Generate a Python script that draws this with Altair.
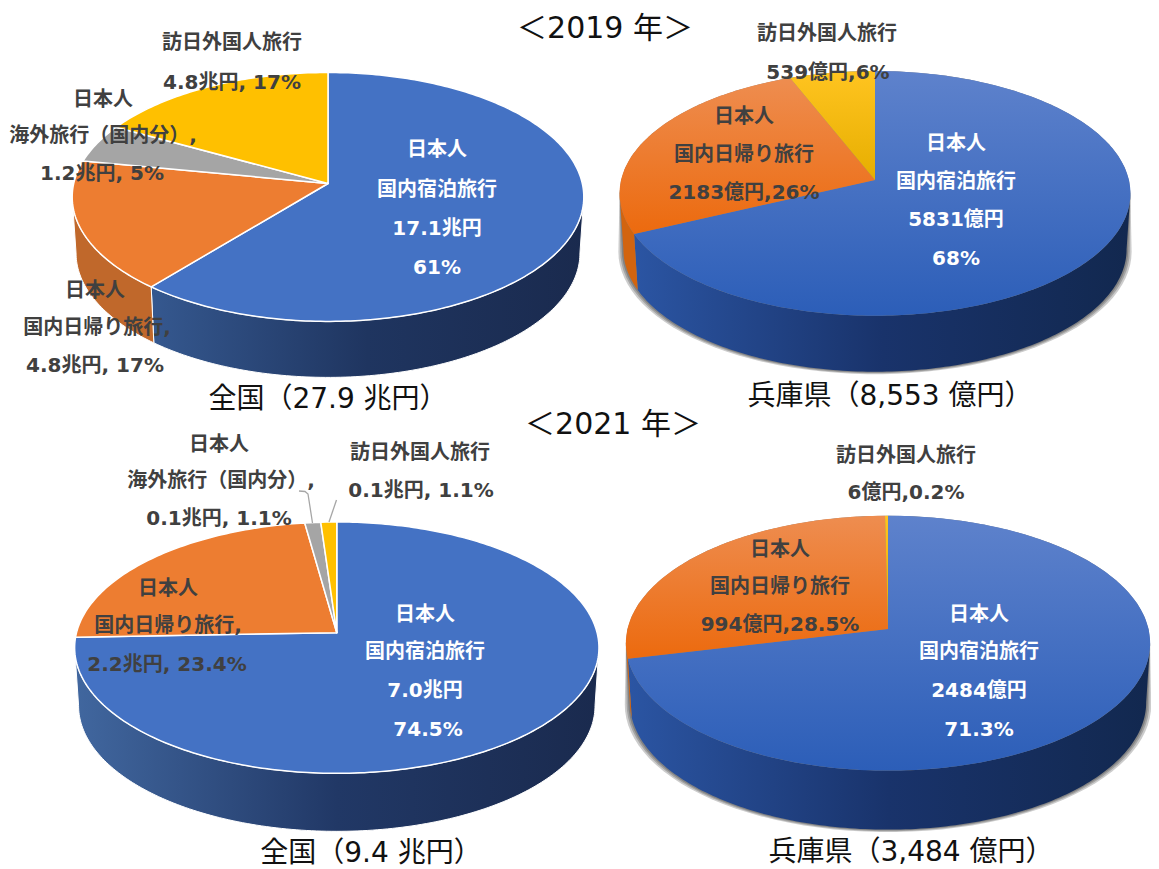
import math
import altair as alt
import pandas as pd

# ---- values ----
slices = ["日本人 国内宿泊旅行", "日本人 国内日帰り旅行", "日本人 海外旅行（国内分）", "訪日外国人旅行"]
share_2019_all = [61, 17, 5, 17]
share_2019_hyogo = [68, 26, 0, 6]
share_2021_all = [74.5, 23.4, 1.1, 1.1]
share_2021_hyogo = [71.3, 28.5, 0, 0.2]

titles = ["＜2019 年＞", "全国（27.9 兆円）", "兵庫県（8,553 億円）",
          "＜2021 年＞", "全国（9.4 兆円）", "兵庫県（3,484 億円）"]
labels_2019_all = ["訪日外国人旅行", "4.8兆円, 17%", "日本人", "海外旅行（国内分）,", "1.2兆円, 5%",
                   "日本人", "国内日帰り旅行,", "4.8兆円, 17%", "日本人", "国内宿泊旅行", "17.1兆円", "61%"]
labels_2019_hyogo = ["訪日外国人旅行", "539億円,6%", "日本人", "国内日帰り旅行", "2183億円,26%",
                     "日本人", "国内宿泊旅行", "5831億円", "68%"]
labels_2021_all = ["日本人", "海外旅行（国内分）,", "0.1兆円, 1.1%", "訪日外国人旅行", "0.1兆円, 1.1%",
                   "日本人", "国内日帰り旅行,", "2.2兆円, 23.4%", "日本人", "国内宿泊旅行", "7.0兆円", "74.5%"]
labels_2021_hyogo = ["訪日外国人旅行", "6億円,0.2%", "日本人", "国内日帰り旅行", "994億円,28.5%",
                     "日本人", "国内宿泊旅行", "2484億円", "71.3%"]

# ---- layout ----
FONT = "DejaVu Sans, Noto Sans CJK JP"
X_SCALE = alt.Scale(domain=[8, 1151], nice=False, zero=False)
Y_SCALE = alt.Scale(domain=[869, 8], nice=False, zero=False)
X = alt.X("x:Q", scale=X_SCALE, axis=None)
Y = alt.Y("y:Q", scale=Y_SCALE, axis=None)

flat_top = ["#4472C4", "#ED7D31", "#A5A5A5", "#FFC000"]


def vgrad(a, b):
    return alt.Gradient(gradient="linear", x1=0, x2=0, y1=0, y2=1,
                        stops=[alt.GradientStop(offset=0, color=a), alt.GradientStop(offset=1, color=b)])


def hgrad(a, m, b):
    return alt.Gradient(gradient="linear", x1=0, x2=1, y1=0, y2=0,
                        stops=[alt.GradientStop(offset=0, color=a), alt.GradientStop(offset=.5, color=m),
                               alt.GradientStop(offset=1, color=b)])


shaded_top = [vgrad("#5E82CC", "#2C5EB8"), vgrad("#EE8D50", "#EC6A0E"), "#A5A5A5", vgrad("#FFC420", "#E6AE00")]

pies = [
    dict(name="a", share=share_2019_all, ax=328, ay=183.5, rx=254.3, r=123, k=.108, depth=56,
         top=flat_top, edge=True,
         wall=[hgrad("#35588F", "#1F3560", "#1A2A4E"), "#C0682B", "#7C7C7C", "#BF9000"]),
    dict(name="b", share=share_2019_hyogo, ax=875, ay=180, rx=253.9, r=120.9, k=.109, depth=56,
         top=shaded_top, edge=False,
         wall=[hgrad("#2B55A3", "#19336B", "#12284F"), "#D2640F", "#7C7C7C", "#BF9000"]),
    dict(name="c", share=share_2021_all, ax=336.8, ay=632.7, rx=260.3, r=123.9, k=.119, depth=58,
         top=flat_top, edge=True,
         wall=[hgrad("#41679F", "#213866", "#1A2A4E"), "#C0682B", "#7C7C7C", "#BF9000"]),
    dict(name="d", share=share_2021_hyogo, ax=888, ay=629, rx=260.5, r=125.9, k=.111, depth=59,
         top=shaded_top, edge=False,
         wall=[hgrad("#2B55A3", "#19336B", "#12284F"), "#D2640F", "#7C7C7C", "#BF9000"]),
]


def rim(p, deg):
    t = math.radians(deg)
    d = 1 + p["k"] * math.cos(t)
    return p["ax"] + p["rx"] * math.sin(t) / d, p["ay"] - p["r"] * math.cos(t) / d


def degrees(a, b, step=1.0):
    n = max(2, int(abs(b - a) / step) + 1)
    return [a + (b - a) * i / (n - 1) for i in range(n)]


def table(points):
    return pd.DataFrame({"i": range(len(points)), "x": [q[0] for q in points], "y": [q[1] for q in points]})


def poly(points, fill, stroke=None, width=0, opacity=None):
    opts = dict(fill=fill, clip=False, strokeCap="round", strokeJoin="round")
    if stroke:
        opts.update(stroke=stroke, strokeWidth=width)
    else:
        opts.update(strokeOpacity=0)
    if opacity is not None:
        opts.update(fillOpacity=opacity)
    return alt.Chart(table(points)).mark_line(**opts).encode(x=X, y=Y, order=alt.Order("i:Q"))


layers = []
for p in pies:
    total = sum(p["share"])
    ends, acc = [], 0
    for s in p["share"]:
        ends.append((acc / total * 360, (acc + s) / total * 360))
        acc += s
    # leftmost / rightmost points of the rim: the wall is visible only between them
    side = math.degrees(math.acos(-p["k"]))
    # soft shadow round the base of the two shaded pies
    if not p["edge"]:
        for grow in (5, 3.2, 1.6):
            ring = [rim(p, d) for d in degrees(side, 360 - side, 3)]
            ring = [(p["ax"] + (x - p["ax"]) * (.985 + grow / p["rx"]), y + p["depth"] + grow * .5) for x, y in ring]
            upper = [rim(p, d) for d in degrees(360 - side, side + 360, 6)]
            layers.append(poly(ring + upper + ring[:1], "#000000", opacity=.2))
    # side walls
    for idx, (a, b) in enumerate(ends):
        lo, hi = max(a, side), min(b, 360 - side)
        if p["share"][idx] == 0 or lo >= hi:
            continue
        upper = [rim(p, d) for d in degrees(lo, hi)]
        lower = [(p["ax"] + (x - p["ax"]) * .985, y + p["depth"]) for x, y in upper][::-1]
        layers.append(poly(upper + lower + upper[:1], p["wall"][idx],
                           "#FFFFFF" if p["edge"] else None, 1))
    # top surface
    for idx, (a, b) in enumerate(ends):
        if p["share"][idx] == 0:
            continue
        pts = [(p["ax"], p["ay"])] + [rim(p, d) for d in degrees(a, b)] + [(p["ax"], p["ay"])]
        layers.append(poly(pts, p["top"][idx], "#FFFFFF" if p["edge"] else None, 1.5))

# leader lines of the two small 2021 slices
for path in ([(299, 491), (305, 491.5), (308, 494), (312.5, 523)], [(336.5, 500), (329, 522)]):
    layers.append(alt.Chart(table(path)).mark_line(stroke="#A6A6A6", strokeWidth=1.3)
                  .encode(x=X, y=Y, order=alt.Order("i:Q")))

# label placement: (list, [(x, y), ...], number of dark lines)
DARK, WHITE = "#404040", "#FFFFFF"
placements = [
    (labels_2019_all, [(232, 43), (232, 83), (103, 100), (103, 136), (102, 174), (95, 291), (97, 328), (95, 366),
                       (437, 150), (437, 190), (437, 229), (437, 268)], 8),
    (labels_2019_hyogo, [(827, 34), (828, 73), (744, 117), (744, 155), (744, 193),
                         (956, 144), (956, 182), (956, 220), (956, 259)], 5),
    (labels_2021_all, [(219, 445), (221, 481), (219, 519), (420, 453), (421, 491), (168, 589), (168, 626), (167, 665),
                       (425, 615), (425, 652), (425, 691), (428, 730)], 8),
    (labels_2021_hyogo, [(906, 456), (906, 493), (780, 550), (780, 587), (780, 625),
                         (979, 615), (979, 652), (979, 691), (979, 730)], 5),
]
rows = []
for texts, where, n_dark in placements:
    for j, (t, (x, y)) in enumerate(zip(texts, where)):
        rows.append(dict(t=t, x=x, y=y, c=DARK if j < n_dark else WHITE))
label_df = pd.DataFrame(rows)
for colour in (DARK, WHITE):
    layers.append(alt.Chart(label_df[label_df.c == colour]).mark_text(
        font=FONT, fontSize=20, fontWeight="bold", color=colour, align="center", baseline="middle"
    ).encode(x=X, y=Y, text="t:N"))

title_pos = [(605, 29, 30), (328, 400, 28), (890, 397, 28), (613, 425, 30), (371, 854, 28), (911, 853, 28)]
title_df = pd.DataFrame([dict(t=t, x=q[0], y=q[1], s=q[2]) for t, q in zip(titles, title_pos)])
for size in (28, 30):
    layers.append(alt.Chart(title_df[title_df.s == size]).mark_text(
        font=FONT, fontSize=size, color="#111111", align="center", baseline="middle"
    ).encode(x=X, y=Y, text="t:N"))

chart = alt.layer(*layers).properties(
    width=1143, height=861, padding=0, autosize=alt.AutoSizeParams(type="none"), background="#FFFFFF"
).configure_view(stroke=None)

chart.save("out.html", embed_options={"renderer": "svg", "actions": False})
